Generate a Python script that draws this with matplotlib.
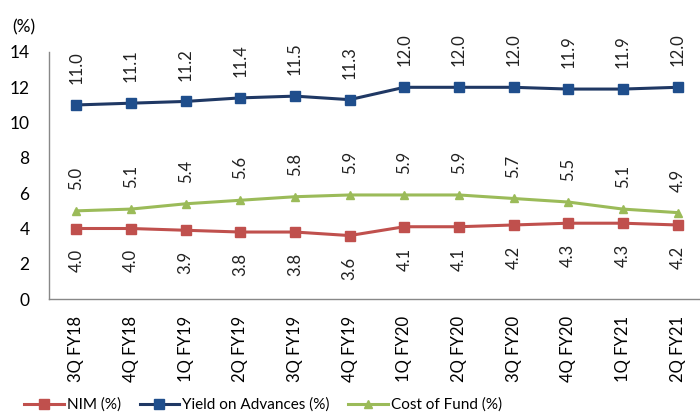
import matplotlib.pyplot as plt
import numpy as np

plt.rcParams['font.family'] = ['Lato', 'DejaVu Sans']

quarters = ['3Q FY18', '4Q FY18', '1Q FY19', '2Q FY19', '3Q FY19', '4Q FY19',
            '1Q FY20', '2Q FY20', '3Q FY20', '4Q FY20', '1Q FY21', '2Q FY21']
nim = [4.0, 4.0, 3.9, 3.8, 3.8, 3.6, 4.1, 4.1, 4.2, 4.3, 4.3, 4.2]
yield_adv = [11.0, 11.1, 11.2, 11.4, 11.5, 11.3, 12.0, 12.0, 12.0, 11.9, 11.9, 12.0]
cost_fund = [5.0, 5.1, 5.4, 5.6, 5.8, 5.9, 5.9, 5.9, 5.7, 5.5, 5.1, 4.9]

fig = plt.figure(figsize=(7, 4.16), dpi=100)
ax = fig.add_axes([0.07, 0.281, 0.937, 0.594])
x = np.arange(len(quarters))

series = [
    (nim, 'NIM (%)', '#C0504D', '#C0504D', 's', 6.5, 'below'),
    (yield_adv, 'Yield on Advances (%)', '#1F3864', '#1F4E8C', 's', 6.5, 'above'),
    (cost_fund, 'Cost of Fund (%)', '#9BBB59', '#9BBB59', '^', 6, 'above'),
]

for vals, label, lc, mc, mk, ms, pos in series:
    ax.plot(x, vals, color=lc, lw=2.2, marker=mk, markersize=ms,
            markerfacecolor=mc, markeredgecolor=mc, label=label)
    for xi, v in zip(x, vals):
        if pos == 'above':
            ax.annotate(f'{v:.1f}', (xi, v), xytext=(0, 15), textcoords='offset points',
                        rotation=90, ha='center', va='bottom', fontsize=12, color='#222222')
        else:
            ax.annotate(f'{v:.1f}', (xi, v), xytext=(0, -15), textcoords='offset points',
                        rotation=90, ha='center', va='top', fontsize=12, color='#222222')

ax.set_xlim(-0.5, len(quarters) - 0.5)
ax.set_ylim(0, 14)
ax.set_yticks(range(0, 15, 2))
ax.set_xticks(x)
ax.set_xticklabels(quarters, rotation=90, fontsize=12)
ax.tick_params(axis='y', labelsize=12.5, length=0, pad=14)
ax.tick_params(axis='x', length=0, pad=12)

for side in ['top', 'right']:
    ax.spines[side].set_visible(False)
for side in ['left', 'bottom']:
    ax.spines[side].set_color('#888888')
    ax.spines[side].set_linewidth(1)

fig.text(0.017, 0.935, '(%)', fontsize=12.5, ha='left', va='center')

fig.legend(loc='center', bbox_to_anchor=(0.376, 0.027), ncol=3, frameon=False,
           fontsize=11, handlelength=2.6, handletextpad=0.2, columnspacing=1.2)

fig.savefig('out.png', dpi=100)
